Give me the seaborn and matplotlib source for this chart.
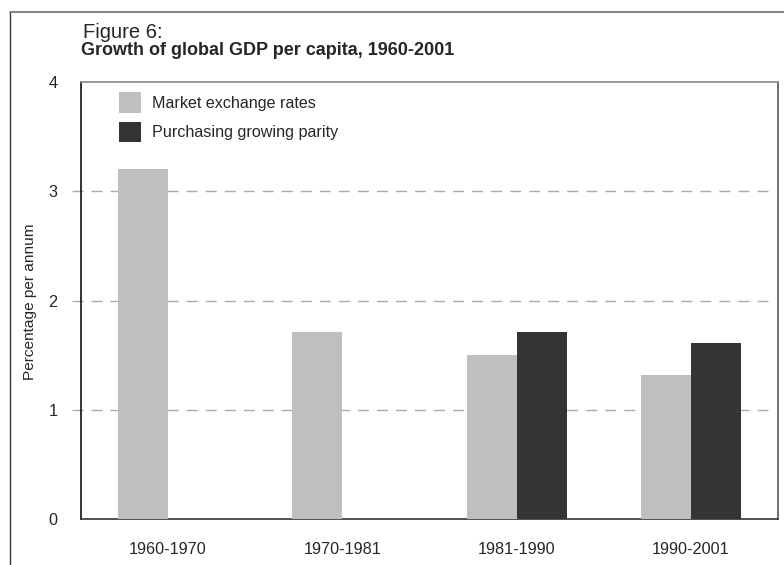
import pandas as pd
import seaborn as sns
import matplotlib.pyplot as plt
from matplotlib.lines import Line2D
from matplotlib.patches import Patch

# data
periods = ['1960-1970', '1970-1981', '1981-1990', '1990-2001']
market_rates = [3.2, 1.71, 1.5, 1.32]
ppp_rates = [None, None, 1.71, 1.61]
series_names = ['Market exchange rates', 'Purchasing growing parity']
colors = ['#bfbfbf', '#333535']

rows = []
for p, m, q in zip(periods, market_rates, ppp_rates):
    rows.append({'period': p, 'series': series_names[0], 'value': m})
    if q is not None:
        rows.append({'period': p, 'series': series_names[1], 'value': q})
df = pd.DataFrame(rows)

sns.set_style('white')
plt.rcParams['font.family'] = ['Liberation Sans', 'DejaVu Sans']

W, H = 784, 565
fig = plt.figure(figsize=(W / 100, H / 100), dpi=100)
ax_l, ax_r, ax_t, ax_b = 81, 778, 82, 519.3
ax = fig.add_axes([ax_l / W, 1 - ax_b / H, (ax_r - ax_l) / W, (ax_b - ax_t) / H])

sns.barplot(data=df, x='period', y='value', hue='series', order=periods,
            hue_order=series_names, palette=colors, width=0.574,
            saturation=1, errorbar=None, legend=False, linewidth=0,
            ax=ax, zorder=3)

ax.set_xlim(-0.5, 3.5)
ax.set_ylim(0, 4)
ax.set_yticks([0, 1, 2, 3, 4])
ax.set_yticklabels(['0', '1', '2', '3', '4'], fontsize=11.7)
ax.tick_params(axis='y', length=0, pad=17)

# x: ticks at category boundaries, labels at centres
ax.set_xticks([-0.5, 0.5, 1.5, 2.5, 3.5])
ax.set_xticklabels([])
ax.set_xticks(range(len(periods)), minor=True)
ax.set_xticklabels(periods, minor=True, fontsize=11.7)
ax.tick_params(axis='x', which='major', length=8, width=1, color='#888888', direction='out')
ax.tick_params(axis='x', which='minor', length=0, pad=16)
ax.set_xlabel('')
ax.set_ylabel('')

# dashed gridlines, running slightly past the left spine
span = ax_r - ax_l
for y in [1, 2, 3]:
    ax.axhline(y, xmin=-9 / span, xmax=(773 - ax_l) / span, color='#aaaaaa',
               lw=1.0, dashes=(7.9, 5.8), zorder=1, clip_on=False)

for side, c in [('left', '#111111'), ('bottom', '#333333'), ('top', '#888888'), ('right', '#555555')]:
    ax.spines[side].set_visible(True)
    ax.spines[side].set_color(c)
    ax.spines[side].set_linewidth(1.2)

handles = [Patch(facecolor=c, edgecolor='none') for c in colors]
ax.legend(handles, series_names, loc='upper left', bbox_to_anchor=(0.0453, 0.992),
          frameon=False, fontsize=11.6, handlelength=1.37, handleheight=1.6,
          handletextpad=0.7, labelspacing=0.55, borderaxespad=0)

fig.text(30.5 / W, 1 - 302 / H, 'Percentage per annum', rotation=90,
         ha='center', va='center', fontsize=11.1)

fig.text(83 / W, 1 - 37.5 / H, 'Figure 6:', fontsize=14.5, va='baseline')
fig.text(81 / W, 1 - 55 / H, 'Growth of global GDP per capita, 1960-2001',
         fontsize=13, fontweight='bold', va='baseline')

# outer frame (only top and left edges visible)
fig.add_artist(Line2D([10 / W, 10 / W], [0, 1 - 12 / H], color='#333333', lw=1.0))
fig.add_artist(Line2D([10 / W, 1], [1 - 12 / H, 1 - 12 / H], color='#888888', lw=1.5))

fig.savefig('out.png', dpi=100)
